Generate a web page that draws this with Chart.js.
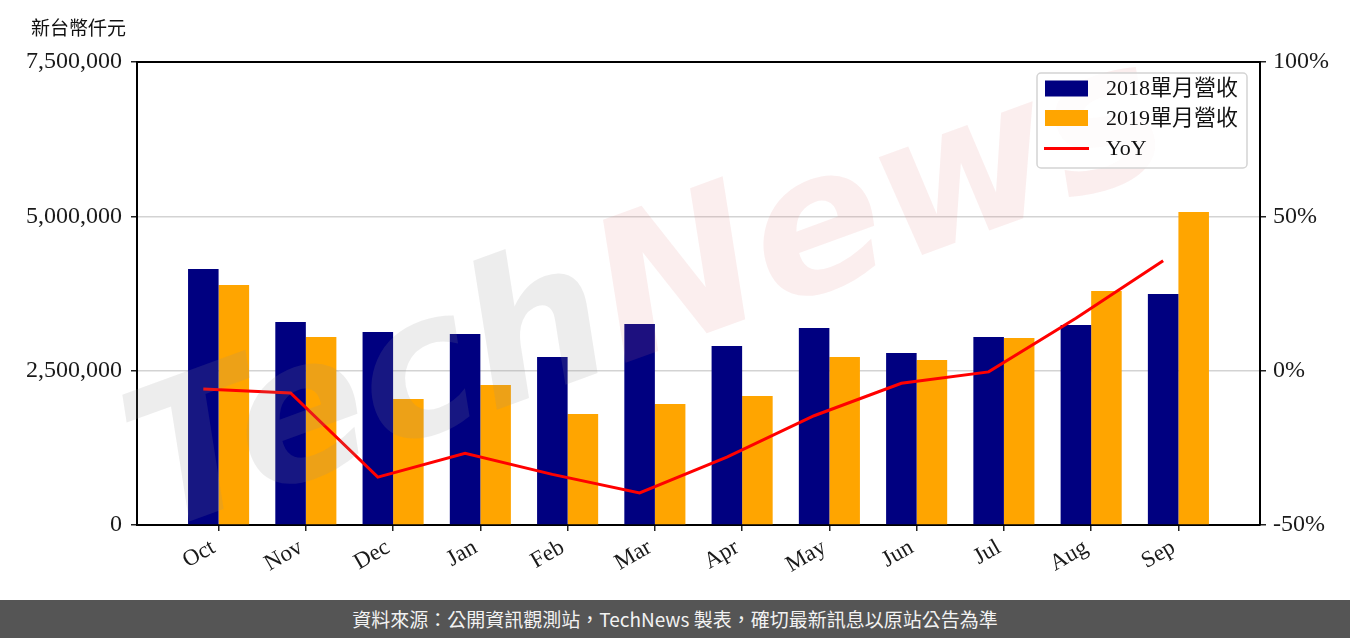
<!DOCTYPE html>
<html><head><meta charset="utf-8">
<script src="https://cdn.jsdelivr.net/npm/chart.js@4"></script>
<style>
html,body{margin:0;padding:0;background:#fff;width:1350px;height:638px;overflow:hidden}
#wrap{position:relative;width:1350px;height:600px}
#footer{width:1350px;height:38px;background:#555555;color:#f2f2f2;font:19px "Noto Sans CJK TC","Noto Sans",sans-serif;text-align:center;line-height:38px;white-space:nowrap}
</style></head><body>
<div id="wrap"><canvas id="c" width="1350" height="600"></canvas></div>
<div id="footer">資料來源：公開資訊觀測站，TechNews 製表，確切最新訊息以原站公告為準</div>
<script>
const months = ['Oct','Nov','Dec','Jan','Feb','Mar','Apr','May','Jun','Jul','Aug','Sep'];
const rev2018 = [4147000,3288000,3127000,3094000,2722000,3256000,2900000,3191000,2786000,3046000,3240000,3742000];
const rev2019 = [3888000,3046000,2041000,2268000,1798000,1960000,2090000,2722000,2673000,3030000,3791000,5070000];
const yoy = [-5.9,-7.2,-34.5,-26.8,-33.6,-39.6,-28.0,-14.6,-4.1,-0.4,17.0,35.6];
const leftTicks = [0,2500000,5000000,7500000];
const rightTicks = [-50,0,50,100];
const unitLabel = '新台幣仟元';
const seriesLabels = ['2018單月營收','2019單月營收','YoY'];

const SERIF = '"Liberation Serif","Noto Sans CJK TC",serif';
const xFont = {family: SERIF, size: 23};
const yFont = {family: SERIF, size: 24};

const framePlugin = {
  id: 'frame',
  afterDatasetsDraw(chart) {
    const {ctx, chartArea: a} = chart;
    ctx.save();
    ctx.translate(650, 300);
    ctx.rotate(-20 * Math.PI / 180);
    ctx.font = 'italic bold 195px "DejaVu Sans"';
    ctx.textBaseline = 'middle';
    ctx.fillStyle = 'rgba(140,140,140,0.16)';
    const w1 = ctx.measureText('Tech').width;
    const w2 = ctx.measureText('News').width;
    const x0 = -(w1 + w2) / 2;
    ctx.fillText('Tech', x0, 0);
    ctx.fillStyle = 'rgba(225,120,120,0.13)';
    ctx.fillText('News', x0 + w1, 0);
    ctx.restore();
    ctx.save();
    ctx.strokeStyle = '#000';
    ctx.lineWidth = 2;
    ctx.beginPath();
    ctx.moveTo(a.left - 1, a.top);
    ctx.lineTo(a.right + 1, a.top);
    ctx.stroke();
    ctx.restore();
  },
  afterDraw(chart) {
    const {ctx} = chart;
    ctx.save();
    ctx.font = '19px "Noto Sans CJK TC",sans-serif';
    ctx.fillStyle = '#111';
    ctx.textBaseline = 'middle';
    ctx.fillText(unitLabel, 31, 28);
    const bx = 1037, by = 73, bw = 210, bh = 95, r = 4;
    ctx.beginPath();
    ctx.moveTo(bx + r, by);
    ctx.arcTo(bx + bw, by, bx + bw, by + bh, r);
    ctx.arcTo(bx + bw, by + bh, bx, by + bh, r);
    ctx.arcTo(bx, by + bh, bx, by, r);
    ctx.arcTo(bx, by, bx + bw, by, r);
    ctx.closePath();
    ctx.fillStyle = 'rgba(255,255,255,0.8)';
    ctx.fill();
    ctx.strokeStyle = '#d4d4d4';
    ctx.lineWidth = 1.5;
    ctx.stroke();
    const rows = [88.5, 118, 148.5];
    chart.data.datasets.forEach((ds, i) => {
      const y = rows[i];
      if (ds.type === 'line') {
        ctx.strokeStyle = ds.borderColor;
        ctx.lineWidth = 3;
        ctx.beginPath();
        ctx.moveTo(1044, y);
        ctx.lineTo(1089, y);
        ctx.stroke();
      } else {
        ctx.fillStyle = ds.backgroundColor;
        ctx.fillRect(1045, y - 8, 43, 16);
      }
      ctx.fillStyle = '#111';
      ctx.font = '22px ' + SERIF;
      ctx.textBaseline = 'middle';
      ctx.fillText(ds.label, 1106, y + 1);
    });
    ctx.restore();
  }
};

new Chart(document.getElementById('c'), {
  type: 'bar',
  data: {
    datasets: [
      {type: 'bar', label: seriesLabels[0], data: rev2018.map((v, i) => ({x: i, y: v})),
       backgroundColor: '#000080', yAxisID: 'y', xAxisID: 'x', categoryPercentage: 0.7, barPercentage: 1, order: 2},
      {type: 'bar', label: seriesLabels[1], data: rev2019.map((v, i) => ({x: i, y: v})),
       backgroundColor: '#FFA500', yAxisID: 'y', xAxisID: 'x', categoryPercentage: 0.7, barPercentage: 1, order: 2},
      {type: 'line', label: seriesLabels[2], data: yoy.map((v, i) => ({x: i - 0.175, y: v})),
       borderColor: '#FF0000', backgroundColor: '#FF0000', borderWidth: 3, pointRadius: 0, tension: 0,
       yAxisID: 'y1', xAxisID: 'x', order: 0}
    ]
  },
  options: {
    responsive: false,
    animation: false,
    layout: {padding: {top: 62, left: 0, right: 0, bottom: 0}},
    plugins: {legend: {display: false}, tooltip: {enabled: false}, title: {display: false}},
    scales: {
      x: {
        type: 'linear', min: -0.935, max: 11.935, offset: false,
        afterBuildTicks(s) { s.ticks = months.map((m, i) => ({value: i})); },
        afterFit(s) { s.height = 75; },
        grid: {offset: false, drawOnChartArea: false, drawTicks: true, tickLength: 6, color: '#222', lineWidth: 1.5},
        border: {display: true, color: '#000', width: 2},
        ticks: {callback: (v) => months[Math.round(v)], minRotation: 30, maxRotation: 30, autoSkip: false,
                font: xFont, color: '#1a1a1a', padding: 3, labelOffset: -5}
      },
      y: {
        position: 'left', min: 0, max: 7500000,
        afterBuildTicks(s) { s.ticks = leftTicks.map(v => ({value: v})); },
        afterFit(s) { s.width = 137; },
        grid: {
          color: (c) => (c.tick && (c.tick.value === 0 || c.tick.value === 7500000)) ? 'rgba(0,0,0,0)' : '#d3d3d3',
          lineWidth: 1.5, tickColor: '#222', tickLength: 6, drawTicks: true
        },
        border: {display: true, color: '#000', width: 2},
        ticks: {callback: (v) => Number(v).toLocaleString('en-US'), font: yFont, color: '#1a1a1a', padding: 9}
      },
      y1: {
        position: 'right', min: -50, max: 100,
        afterBuildTicks(s) { s.ticks = rightTicks.map(v => ({value: v})); },
        afterFit(s) { s.width = 90; },
        grid: {drawOnChartArea: false, tickColor: '#222', tickLength: 6, lineWidth: 1.5},
        border: {display: true, color: '#000', width: 2},
        ticks: {callback: (v) => v + '%', font: yFont, color: '#1a1a1a', padding: 7}
      }
    }
  },
  plugins: [framePlugin]
});
</script>
</body></html>
